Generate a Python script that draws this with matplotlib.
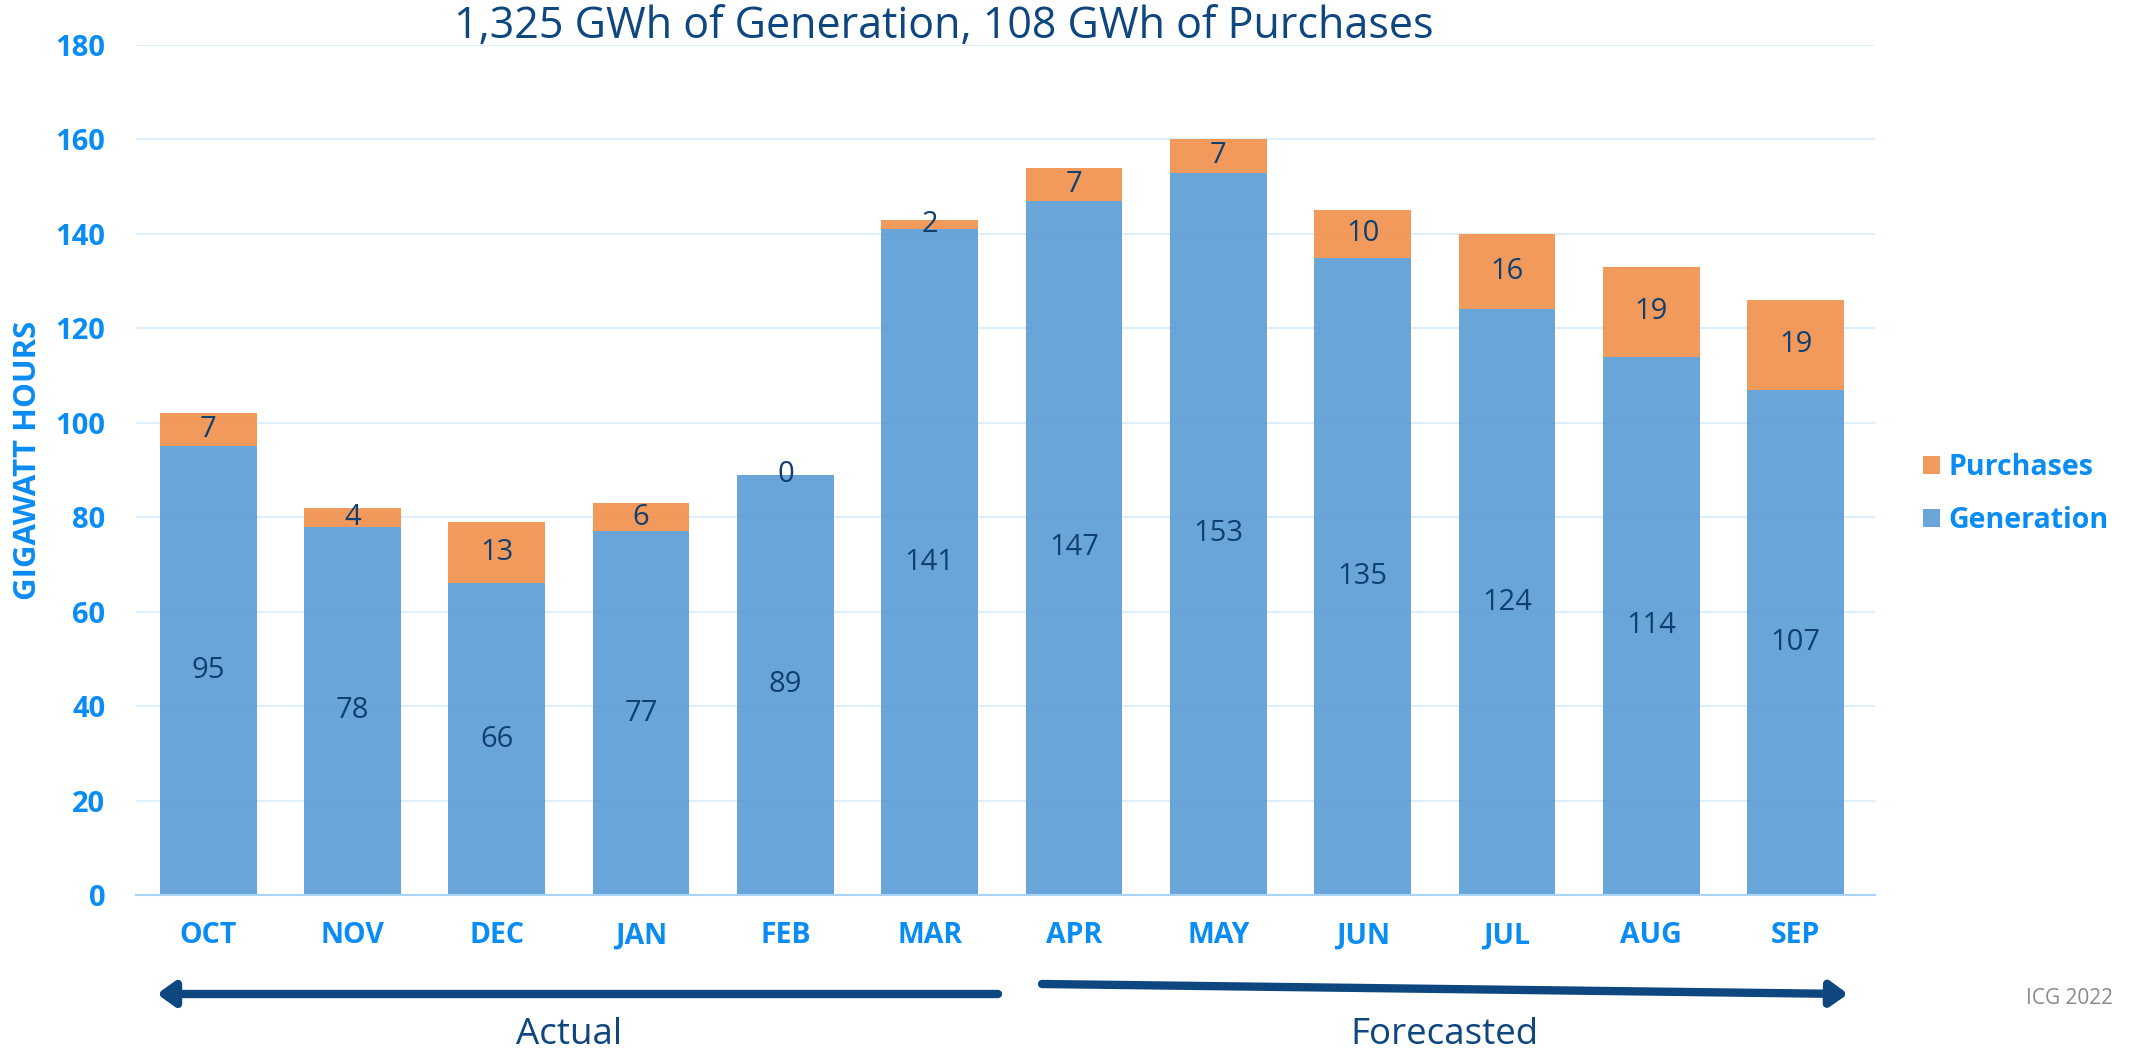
import matplotlib
matplotlib.use("Agg")
import matplotlib.pyplot as plt
import numpy as np
from matplotlib.patches import FancyArrowPatch

# data
months = ["OCT", "NOV", "DEC", "JAN", "FEB", "MAR", "APR", "MAY", "JUN", "JUL", "AUG", "SEP"]
generation = [95, 78, 66, 77, 89, 141, 147, 153, 135, 124, 114, 107]
purchases = [7, 4, 13, 6, 0, 2, 7, 7, 10, 16, 19, 19]
yticks = [0, 20, 40, 60, 80, 100, 120, 140, 160, 180]

TITLE = "1,325 GWh of Generation, 108 GWh of Purchases"
BLUE_TXT = "#0A8CF5"
NAVY = "#0E4680"
LABEL_NAVY = "#10406F"
GEN_COLOR = "#5A9BD6"
PUR_COLOR = "#F18F49"

plt.rcParams["font.family"] = ["Open Sans", "DejaVu Sans"]

W, H = 2136, 1049
fig = plt.figure(figsize=(W / 100, H / 100), dpi=100)
ax = fig.add_axes([136 / W, 1 - 895 / H, (1875 - 136) / W, (895 - 45) / H])

x = np.arange(len(months))
gen = np.array(generation)
pur = np.array(purchases)
bw = 0.67
b1 = ax.bar(x, gen, bw, color=GEN_COLOR, alpha=0.9, label="Generation", zorder=2)
b2 = ax.bar(x, pur, bw, bottom=gen, color=PUR_COLOR, alpha=0.9, label="Purchases", zorder=2)

# value labels in middle of each segment
for i in range(len(months)):
    ax.text(x[i], gen[i] / 2, str(generation[i]), ha="center", va="center",
            fontsize=21, color=LABEL_NAVY, zorder=3)
    ax.text(x[i], gen[i] + pur[i] / 2, str(purchases[i]), ha="center", va="center",
            fontsize=21, color=LABEL_NAVY, zorder=3)

ax.set_xlim(-0.5, len(months) - 0.45)
ax.set_ylim(0, 180)
ax.set_yticks(yticks)
ax.set_xticks(x)
ax.set_xticklabels(months)
ax.tick_params(axis="both", length=0, labelcolor=BLUE_TXT, labelsize=21)
ax.tick_params(axis="y", pad=22)
ax.tick_params(axis="x", pad=19, labelsize=20.5)
for lab in ax.get_xticklabels() + ax.get_yticklabels():
    lab.set_fontweight("bold")
ax.grid(axis="y", color="#DDEEFC", lw=1.5, zorder=0)
ax.set_axisbelow(True)
for s in ["top", "right", "left"]:
    ax.spines[s].set_visible(False)
ax.spines["bottom"].set_color("#A9D4F7")
ax.spines["bottom"].set_linewidth(1.5)
ax.spines["bottom"].set_zorder(4)

ax.set_ylabel("GIGAWATT HOURS", fontsize=22.5, fontweight="bold", color=BLUE_TXT)
ax.yaxis.set_label_coords(43 / W, 1 - 460 / H, transform=fig.transFigure)

fig.text(944 / W, 1 - 27 / H, TITLE, ha="center", va="center", fontsize=31, color=NAVY)

leg = ax.legend([b2, b1], ["Purchases", "Generation"], loc="center left",
                bbox_to_anchor=(1909 / W, 1 - 494 / H), bbox_transform=fig.transFigure,
                frameon=False, borderpad=0, handlelength=0.6, handleheight=0.6,
                handletextpad=0.3, labelspacing=0.85, prop={"weight": "bold", "size": 20.5})
for t in leg.get_texts():
    t.set_color(BLUE_TXT)

# arrows under the axis, in figure pixel space
ov = fig.add_axes([0, 0, 1, 1], facecolor="none")
ov.set_xlim(0, W)
ov.set_ylim(H, 0)
ov.axis("off")
ov.add_patch(FancyArrowPatch((998, 994), (157, 994), arrowstyle="-|>,head_length=0.5,head_width=0.36",
                             mutation_scale=20, lw=6, color=NAVY, shrinkA=0, shrinkB=0))
ov.add_patch(FancyArrowPatch((1042, 984), (1848, 994), arrowstyle="-|>,head_length=0.5,head_width=0.36",
                             mutation_scale=20, lw=6, color=NAVY, shrinkA=0, shrinkB=0))
ov.text(569, 1035, "Actual", ha="center", va="center", fontsize=26.5, color=NAVY)
ov.text(1444, 1035, "Forecasted", ha="center", va="center", fontsize=26.5, color=NAVY)
ov.text(2070, 998, "ICG 2022", ha="center", va="center", fontsize=15, color="#8A8A8A")

fig.savefig("out.png", dpi=100)
